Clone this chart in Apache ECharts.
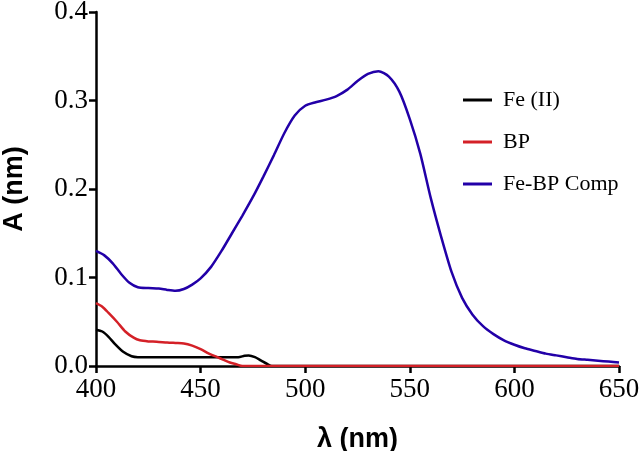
<!DOCTYPE html>
<html>
<head>
<meta charset="utf-8">
<script src="https://cdn.jsdelivr.net/npm/echarts@6/dist/echarts.min.js"></script>
<style>html,body{margin:0;padding:0;background:#fff}#c{width:640px;height:451px}</style>
</head>
<body>
<div id="c"></div>
<script>
const seriesNames = ['Fe (II)', 'BP', 'Fe-BP Comp'];
const xTicks = [400, 450, 500, 550, 600, 650];
const yTicks = [0.0, 0.1, 0.2, 0.3, 0.4];

const feX = [400, 403, 406, 409, 413, 417, 420, 430, 440, 450, 460, 468, 471, 473, 476, 479, 482, 484, 500, 550, 600, 650];
const feY = [0.041, 0.039, 0.033, 0.025, 0.016, 0.011, 0.010, 0.010, 0.010, 0.010, 0.010, 0.010, 0.0115, 0.012, 0.010, 0.006, 0.002, 0, 0, 0, 0, 0];

const bpX = [400, 403, 406, 410, 414, 418, 421, 425, 429, 434, 438, 442, 446, 450, 454, 458, 461, 464, 467, 470, 500, 550, 600, 650];
const bpY = [0.071, 0.067, 0.060, 0.050, 0.039, 0.032, 0.029, 0.0278, 0.0275, 0.0265, 0.026, 0.0255, 0.023, 0.019, 0.014, 0.010, 0.007, 0.004, 0.002, 0, 0, 0, 0, 0];

const compX = [400, 404, 408, 412, 416, 420, 425, 430, 434, 438, 442, 446, 450, 455, 460, 465, 470, 475, 480, 485, 490, 495, 500, 505, 510, 515, 520, 525, 530, 535, 540, 545, 550, 555, 560, 565, 570, 575, 580, 585, 590, 595, 600, 605, 610, 615, 620, 625, 630, 635, 640, 645, 650];
const compY = [0.130, 0.125, 0.116, 0.104, 0.094, 0.089, 0.088, 0.0875, 0.086, 0.085, 0.087, 0.092, 0.099, 0.112, 0.130, 0.150, 0.170, 0.191, 0.214, 0.238, 0.263, 0.283, 0.294, 0.298, 0.301, 0.305, 0.312, 0.322, 0.330, 0.333, 0.327, 0.310, 0.279, 0.240, 0.190, 0.146, 0.106, 0.077, 0.058, 0.045, 0.036, 0.029, 0.024, 0.020, 0.017, 0.014, 0.012, 0.010, 0.008, 0.007, 0.006, 0.005, 0.004];

const colors = ['#000000', '#d42027', '#2200a8'];
const pairs = (xs, ys) => xs.map((x, i) => [x, ys[i]]);
const dataSets = [pairs(feX, feY), pairs(bpX, bpY), pairs(compX, compY)];

const chart = echarts.init(document.getElementById('c'), null, {renderer: 'canvas'});
const axisCommon = {
  axisLine: {show: true, onZero: false, lineStyle: {color: '#000', width: 2.5}},
  axisTick: {show: true, inside: false, length: 7, lineStyle: {color: '#000', width: 2.5}},
  splitLine: {show: false},
  axisLabel: {color: '#000', fontFamily: 'Liberation Serif', fontSize: 27}
};
chart.setOption({
  animation: false,
  backgroundColor: '#fff',
  grid: {left: 96, right: 21, top: 12, bottom: 85, containLabel: false, outerBoundsMode: 'none'},
  xAxis: Object.assign({}, axisCommon, {
    type: 'value', min: xTicks[0], max: xTicks[xTicks.length - 1], interval: 50,
    name: 'λ (nm)', nameLocation: 'middle', nameGap: 60,
    nameTextStyle: {color: '#000', fontFamily: 'Liberation Sans', fontWeight: 'bold', fontSize: 27},
    axisLabel: Object.assign({}, axisCommon.axisLabel, {margin: 10})
  }),
  yAxis: Object.assign({}, axisCommon, {
    type: 'value', min: yTicks[0], max: yTicks[yTicks.length - 1], interval: 0.1,
    name: 'A (nm)', nameLocation: 'middle', nameGap: 68, nameRotate: 90,
    nameTextStyle: {color: '#000', fontFamily: 'Liberation Sans', fontWeight: 'bold', fontSize: 27},
    axisLabel: Object.assign({}, axisCommon.axisLabel, {margin: 8, formatter: v => v.toFixed(1)})
  }),
  legend: {
    orient: 'vertical', left: 458, top: 84, itemWidth: 29, itemHeight: 3, itemGap: 20,
    icon: 'rect',
    textStyle: {color: '#000', fontFamily: 'Liberation Serif', fontSize: 22, lineHeight: 22, padding: [0, 0, 0, 6]},
    data: seriesNames
  },
  series: seriesNames.map((n, i) => ({
    name: n, type: 'line', data: dataSets[i], smooth: 0.25, showSymbol: false,
    lineStyle: {color: colors[i], width: 2.5}, itemStyle: {color: colors[i]}, z: 2 + i
  }))
});
</script>
</body>
</html>
